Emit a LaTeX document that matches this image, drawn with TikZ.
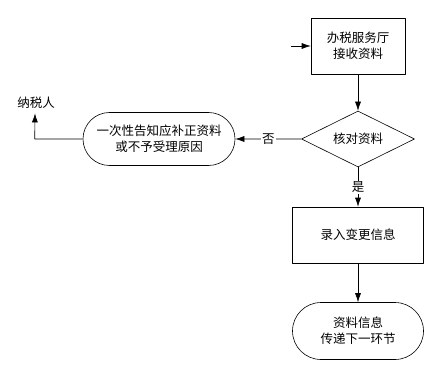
\documentclass[tikz,border=0pt]{standalone}
\usepackage{fontspec}
\setmainfont{Noto Sans CJK SC}
\usetikzlibrary{arrows.meta, calc, shapes.geometric, shapes.misc}

\begin{document}
\begin{tikzpicture}[x=1pt, y=-1pt, semithick, line join=round,
    font=\fontsize{12.5}{16}\selectfont,
    box/.style={draw, rectangle, align=center, inner sep=0pt},
    term/.style={draw, rounded rectangle, align=center, inner sep=0pt},
    check/.style={draw, diamond, aspect=2, inner sep=0pt},
    flow/.style={-{Latex[length=9pt, width=6pt]}}]
        % 그림 크기 (참조 이미지와 같은 비율)
        \useasboundingbox (0,0) rectangle (435,371);

        % 흐름도 노드
        \node[box, minimum width=94pt, minimum height=56pt] (accept) at (358,46)
            {办税服务厅\\接收资料};
        \node[check, minimum width=113pt, minimum height=56pt] (verify) at (358,139)
            {核对资料};
        \node[term, minimum width=152pt, minimum height=53pt] (notify) at (159,139)
            {一次性告知应补正资料\\或不予受理原因};
        \node[box, minimum width=131pt, minimum height=56pt] (record) at (358,235)
            {录入变更信息};
        \node[term, minimum width=131pt, minimum height=57pt] (pass) at (358,331)
            {资料信息\\传递下一环节};
        \node (payer) at (36,103) {纳税人};

        % 연결선
        \coordinate (start) at (291,46);
        \coordinate (turn) at ($(notify.west)-(48,0)$);
        \draw[flow] (start) -- (accept.west);
        \draw[flow] (accept) -- (verify);
        \draw[flow] (verify) -- node[fill=white, inner sep=1pt] {否} (notify);
        \draw[flow] (verify) -- node[fill=white, inner sep=1pt, pos=0.5] {是} (record);
        \draw[flow] (record) -- (pass);
        \draw[flow] (notify.west) -- (turn) -- ($(payer.south)+(-1,1)$);
    \end{tikzpicture}
\end{document}
